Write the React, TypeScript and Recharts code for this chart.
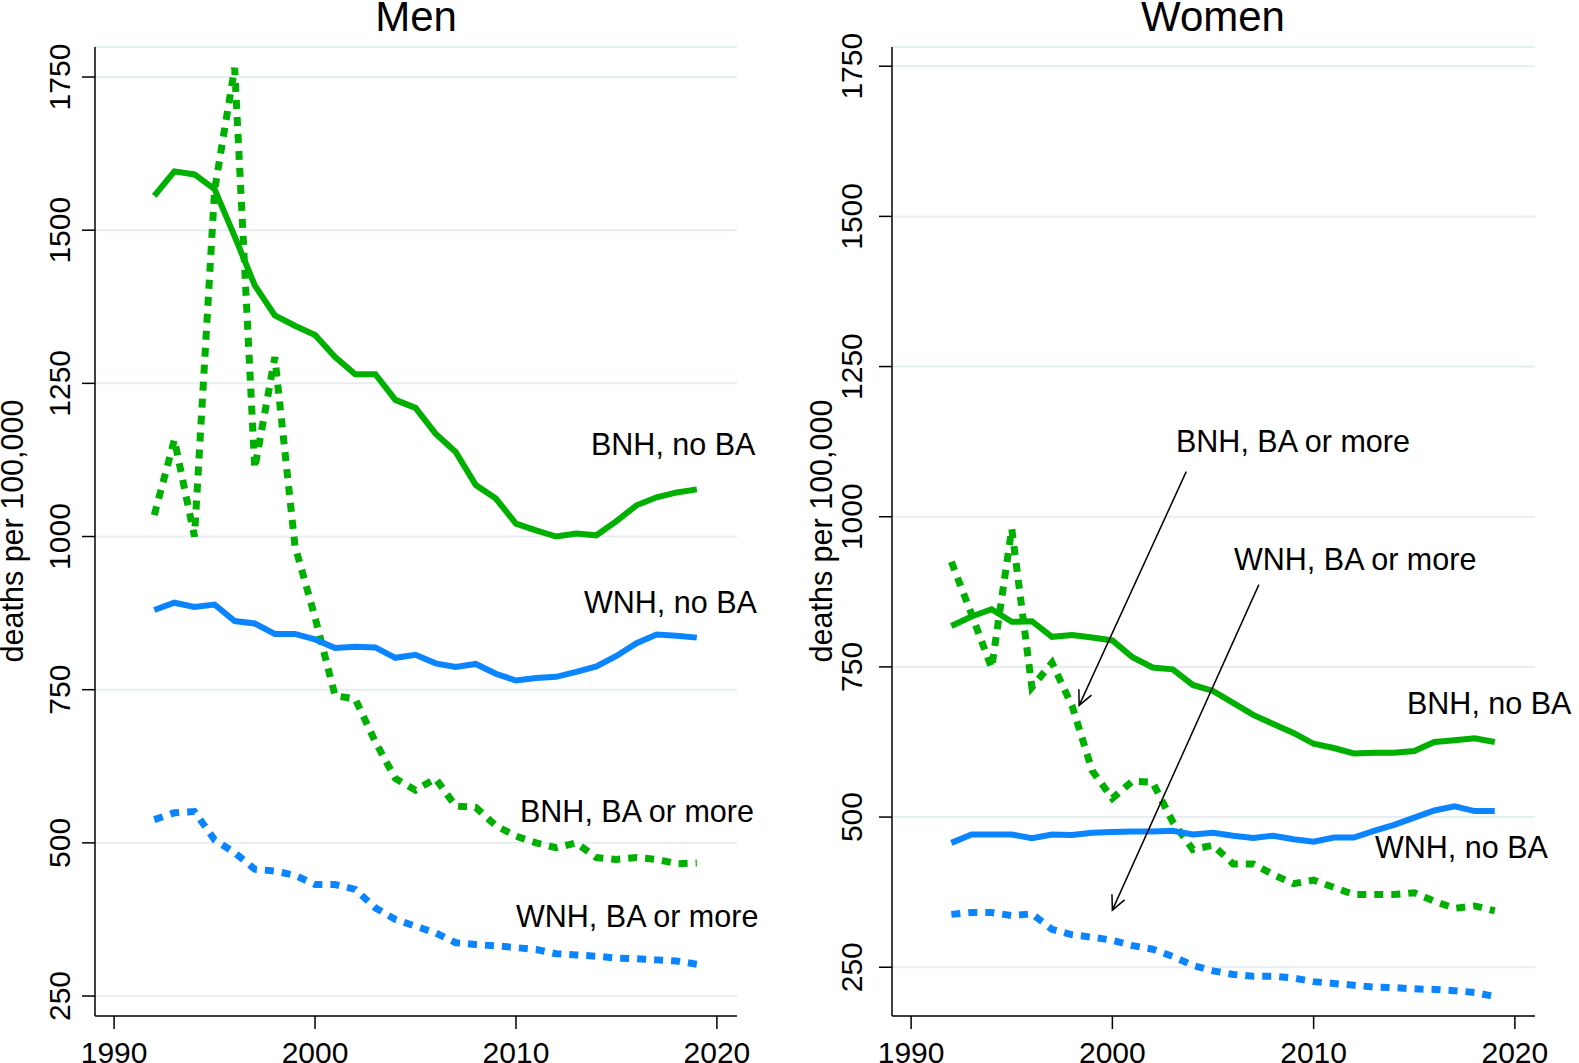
import React from 'react';
import { LineChart, Line, XAxis, YAxis, CartesianGrid, ReferenceLine } from 'recharts';

// years covered by every series
const years = [
  1992, 1993, 1994, 1995, 1996, 1997, 1998, 1999, 2000, 2001, 2002, 2003, 2004, 2005,
  2006, 2007, 2008, 2009, 2010, 2011, 2012, 2013, 2014, 2015, 2016, 2017, 2018, 2019,
];

// Men, deaths per 100,000
const menBnhNoBa = [1556, 1596, 1591, 1567, 1490, 1410, 1361, 1344, 1329, 1293, 1265, 1265, 1223, 1210, 1168, 1138, 1084, 1062, 1021, 1010, 1000, 1005, 1002, 1025, 1051, 1064, 1072, 1077];
const menBnhBa = [1035, 1158, 1000, 1565, 1765, 1111, 1293, 985, 868, 740, 735, 665, 605, 586, 605, 560, 558, 528, 511, 500, 492, 500, 476, 473, 476, 473, 466, 467];
const menWnhNoBa = [880, 892, 885, 889, 862, 858, 841, 841, 832, 818, 820, 819, 802, 807, 793, 787, 792, 776, 765, 769, 771, 779, 788, 805, 826, 840, 838, 835];
const menWnhBa = [538, 549, 551, 505, 484, 457, 454, 447, 432, 432, 424, 394, 375, 364, 353, 337, 334, 332, 329, 326, 319, 317, 315, 312, 311, 309, 307, 302];

// Women, deaths per 100,000
const womenBnhNoBa = [818, 834, 846, 825, 826, 800, 803, 799, 794, 766, 749, 746, 720, 710, 690, 670, 655, 640, 622, 615, 606, 607, 607, 610, 625, 628, 631, 625];
const womenBnhBa = [925, 838, 748, 980, 716, 757, 685, 577, 531, 560, 558, 492, 446, 453, 422, 422, 404, 389, 395, 383, 371, 371, 371, 374, 360, 348, 352, 344];
const womenWnhNoBa = [457, 471, 471, 471, 465, 471, 470, 474, 475, 476, 476, 477, 471, 474, 469, 465, 469, 463, 459, 466, 466, 477, 487, 499, 511, 518, 510, 510];
const womenWnhBa = [338, 341, 341, 336, 339, 313, 304, 300, 295, 286, 280, 268, 253, 244, 238, 235, 235, 232, 226, 223, 220, 217, 216, 214, 213, 211, 208, 201];

const xTicks = [1990, 2000, 2010, 2020];
const yTicks = [250, 500, 750, 1000, 1250, 1500, 1750];

// arrow annotations in the women panel: [fromYear, fromValue, toYear, toValue]
const womenArrows = [
  [2003.67, 1075, 1998.35, 686],
  [2007.28, 887, 2000.0, 345],
];

const GREEN = '#00b000';
const BLUE = '#0a84ff';
const GRID = '#e6eef1';
const FONT = '"Liberation Sans", Arial, Helvetica, sans-serif';

const toRows = (a: number[], b: number[], c: number[], d: number[]) =>
  years.map((year, i) => ({ year, bnhNoBa: a[i], bnhBa: b[i], wnhNoBa: c[i], wnhBa: d[i] }));

const menRows = toRows(menBnhNoBa, menBnhBa, menWnhNoBa, menWnhBa);
const womenRows = toRows(womenBnhNoBa, womenBnhBa, womenWnhNoBa, womenWnhBa);

const YTick = (props: any) => {
  const { x, y, payload } = props;
  return (
    <text x={x} y={y} transform={`rotate(-90, ${x}, ${y})`} textAnchor="middle"
      fontSize={30} fontFamily={FONT} fill="#000">
      {payload.value}
    </text>
  );
};

const XTick = (props: any) => {
  const { x, y, payload } = props;
  return (
    <text x={x} y={y} textAnchor="middle" fontSize={30} fontFamily={FONT} fill="#000">
      {payload.value}
    </text>
  );
};

const Arrow = (props: any) => {
  const { x1, y1, x2, y2 } = props;
  const ang = Math.atan2(y2 - y1, x2 - x1);
  const len = 16;
  const spread = Math.PI / 7;
  const a1 = ang + Math.PI - spread;
  const a2 = ang + Math.PI + spread;
  return (
    <g>
      <line x1={x1} y1={y1} x2={x2} y2={y2} stroke="#000" strokeWidth={1.5} />
      <polyline
        points={`${x2 + len * Math.cos(a1)},${y2 + len * Math.sin(a1)} ${x2},${y2} ${x2 + len * Math.cos(a2)},${y2 + len * Math.sin(a2)}`}
        fill="none" stroke="#000" strokeWidth={1.5} />
    </g>
  );
};

interface PanelProps {
  data: any[];
  width: number;
  yAxisWidth: number;
  rightMargin: number;
  yDomain: [number, number];
  yTickMargin: number;
  arrows?: number[][];
}

function Panel({ data, width, yAxisWidth, rightMargin, yDomain, yTickMargin, arrows = [] }: PanelProps) {
  const axisStyle = { stroke: '#000', strokeWidth: 1.5 };
  return (
    <LineChart width={width} height={1063} data={data}
      margin={{ top: 47, right: rightMargin, bottom: 0, left: 0 }}>
      <CartesianGrid vertical={false} stroke={GRID} strokeWidth={2} />
      <XAxis dataKey="year" type="number" domain={[1989.05, 2021]} ticks={xTicks}
        allowDataOverflow height={47} tickSize={13} tickMargin={34}
        axisLine={axisStyle} tickLine={axisStyle} tick={<XTick />} />
      <YAxis type="number" domain={yDomain} ticks={yTicks} allowDataOverflow
        width={yAxisWidth} tickSize={13} tickMargin={yTickMargin}
        axisLine={axisStyle} tickLine={axisStyle} tick={<YTick />} />
      <Line dataKey="bnhNoBa" type="linear" stroke={GREEN} strokeWidth={6} dot={false} isAnimationActive={false} />
      <Line dataKey="bnhBa" type="linear" stroke={GREEN} strokeWidth={7} strokeDasharray="9 8" dot={false} isAnimationActive={false} />
      <Line dataKey="wnhNoBa" type="linear" stroke={BLUE} strokeWidth={6} dot={false} isAnimationActive={false} />
      <Line dataKey="wnhBa" type="linear" stroke={BLUE} strokeWidth={7} strokeDasharray="9 8" dot={false} isAnimationActive={false} />
      {arrows.map((a, i) => (
        <ReferenceLine key={i} segment={[{ x: a[0], y: a[1] }, { x: a[2], y: a[3] }]}
          ifOverflow="visible" shape={Arrow} />
      ))}
    </LineChart>
  );
}

const textStyle = { fontFamily: FONT, fill: '#000' };

export default function App() {
  return (
    <div style={{ position: 'absolute', left: 0, top: 0, width: 1579, height: 1063, background: '#fff' }}>
      <div style={{ position: 'absolute', left: 0, top: 0 }}>
        <Panel data={menRows} width={790} yAxisWidth={95} rightMargin={53}
          yDomain={[217.4, 1799]} yTickMargin={12} />
      </div>
      <div style={{ position: 'absolute', left: 790, top: 0 }}>
        <Panel data={womenRows} width={789} yAxisWidth={102} rightMargin={44}
          yDomain={[168.8, 1782]} yTickMargin={17} arrows={womenArrows} />
      </div>
      <svg width={1579} height={1063} style={{ position: 'absolute', left: 0, top: 0, pointerEvents: 'none' }}>
        <text x={416} y={31} textAnchor="middle" fontSize={42} {...textStyle}>Men</text>
        <text x={1213} y={31} textAnchor="middle" fontSize={42} {...textStyle}>Women</text>

        <text x={23} y={531} transform="rotate(-90, 23, 531)" textAnchor="middle" fontSize={30.5} {...textStyle}>deaths per 100,000</text>
        <text x={832} y={531} transform="rotate(-90, 832, 531)" textAnchor="middle" fontSize={30.5} {...textStyle}>deaths per 100,000</text>

        <text x={591} y={455} fontSize={30.5} {...textStyle}>BNH, no BA</text>
        <text x={584} y={613} fontSize={30.5} {...textStyle}>WNH, no BA</text>
        <text x={520} y={822} fontSize={30.5} {...textStyle}>BNH, BA or more</text>
        <text x={516} y={927} fontSize={30.5} {...textStyle}>WNH, BA or more</text>

        <text x={1176} y={452} fontSize={30.5} {...textStyle}>BNH, BA or more</text>
        <text x={1234} y={570} fontSize={30.5} {...textStyle}>WNH, BA or more</text>
        <text x={1407} y={714} fontSize={30.5} {...textStyle}>BNH, no BA</text>
        <text x={1375} y={858} fontSize={30.5} {...textStyle}>WNH, no BA</text>
      </svg>
    </div>
  );
}
